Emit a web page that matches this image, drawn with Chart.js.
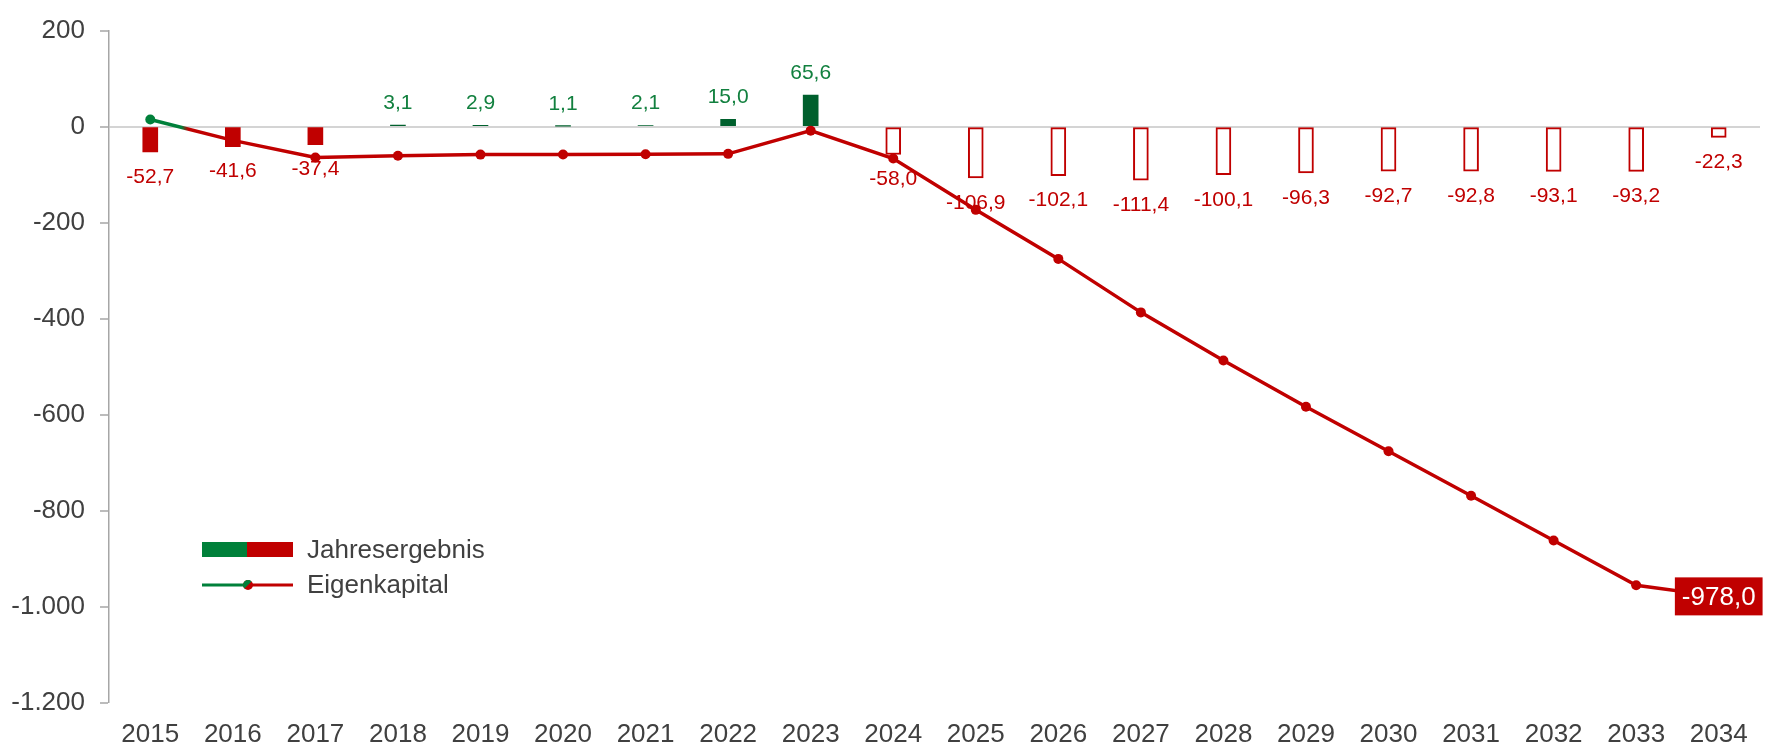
<!DOCTYPE html>
<html>
<head>
<meta charset="utf-8">
<script src="https://cdn.jsdelivr.net/npm/chart.js@4/dist/chart.umd.min.js"></script>
<style>
  html, body { margin: 0; padding: 0; background: #fff; }
  #wrap { width: 1769px; height: 748px; position: relative; }
</style>
</head>
<body>
<div id="wrap"><canvas id="myChart"></canvas></div>
<script>
const years = ['2015', '2016', '2017', '2018', '2019', '2020', '2021', '2022', '2023', '2024',
  '2025', '2026', '2027', '2028', '2029', '2030', '2031', '2032', '2033', '2034'];
const jahresergebnis = [-52.7, -41.6, -37.4, 3.1, 2.9, 1.1, 2.1, 15.0, 65.6, -58.0,
  -106.9, -102.1, -111.4, -100.1, -96.3, -92.7, -92.8, -93.1, -93.2, -22.3];
const eigenkapital = [15.0, -28.5, -64.4, -60.6, -58.2, -57.9, -57.3, -56.6, -8.3, -66.3,
  -173.2, -275.3, -386.7, -486.8, -583.1, -675.8, -768.6, -861.7, -954.9, -978.0];
const firstPlanYear = '2024';
const yTicks = [200, 0, -200, -400, -600, -800, -1000, -1200];

const RED = '#c00000';
const GREEN = '#00803a';
const DARKGREEN = '#00602d';
const LABELGREEN = '#12803f';
const GREY = '#404040';
const FONT = '"Liberation Sans", Arial, sans-serif';

const planStart = years.indexOf(firstPlanYear);

function fmtDec(v) {
  return v.toFixed(1).replace('.', ',');
}

function fmtThousand(v) {
  let s = Math.abs(v).toString().replace(/\B(?=(\d{3})+(?!\d))/g, '.');
  return (v < 0 ? '-' : '') + s;
}

const barLabels = {
  id: 'barLabels',
  afterDatasetDraw(chart, args) {
    if (args.index !== 1) return;
    const ctx = chart.ctx;
    ctx.save();
    ctx.font = '21px ' + FONT;
    ctx.textAlign = 'center';
    ctx.textBaseline = 'middle';
    args.meta.data.forEach((bar, i) => {
      const v = jahresergebnis[i];
      ctx.fillStyle = v < 0 ? RED : LABELGREEN;
      const y = v < 0 ? bar.y + 25 : bar.y - 22;
      ctx.fillText(fmtDec(v), bar.x, y);
    });
    ctx.restore();
  }
};

const endLabel = {
  id: 'endLabel',
  afterDatasetsDraw(chart) {
    const ctx = chart.ctx;
    const meta = chart.getDatasetMeta(0);
    const last = eigenkapital.length - 1;
    const pt = meta.data[last];
    const text = fmtDec(eigenkapital[last]);
    ctx.save();
    ctx.font = '26px ' + FONT;
    const w = ctx.measureText(text).width + 14;
    const h = 38;
    ctx.fillStyle = RED;
    ctx.fillRect(pt.x - w / 2, pt.y - h / 2, w, h);
    ctx.fillStyle = '#fff';
    ctx.textAlign = 'center';
    ctx.textBaseline = 'middle';
    ctx.fillText(text, pt.x, pt.y + 1);
    ctx.restore();
  }
};

const customLegend = {
  id: 'customLegend',
  afterDraw(chart) {
    const ctx = chart.ctx;
    const x0 = 202, xm = 247, x1 = 293, tx = 307;
    const y1 = 550, y2 = 585;
    ctx.save();
    ctx.fillStyle = GREEN;
    ctx.fillRect(x0, y1 - 8, xm - x0, 15);
    ctx.fillStyle = RED;
    ctx.fillRect(xm, y1 - 8, x1 - xm, 15);

    ctx.lineWidth = 3;
    ctx.strokeStyle = GREEN;
    ctx.beginPath(); ctx.moveTo(x0, y2); ctx.lineTo(xm, y2); ctx.stroke();
    ctx.strokeStyle = RED;
    ctx.beginPath(); ctx.moveTo(xm, y2); ctx.lineTo(x1, y2); ctx.stroke();
    ctx.fillStyle = RED;
    ctx.beginPath(); ctx.arc(xm + 1, y2, 5, 0, Math.PI * 2); ctx.fill();
    ctx.fillStyle = GREEN;
    ctx.beginPath(); ctx.arc(xm + 1, y2, 5, Math.PI * 0.75, Math.PI * 1.75); ctx.fill();

    ctx.fillStyle = GREY;
    ctx.font = '26px ' + FONT;
    ctx.textAlign = 'left';
    ctx.textBaseline = 'middle';
    ctx.fillText('Jahresergebnis', tx, y1 + 1);
    ctx.fillText('Eigenkapital', tx, y2 + 1);
    ctx.restore();
  }
};

function segColor(c) {
  if (c.p0DataIndex !== 0) return undefined;
  const grad = c.chart.ctx.createLinearGradient(c.p0.x, 0, c.p1.x, 0);
  grad.addColorStop(0, GREEN);
  grad.addColorStop(0.38, GREEN);
  grad.addColorStop(0.46, RED);
  grad.addColorStop(1, RED);
  return grad;
}

new Chart(document.getElementById('myChart'), {
  type: 'bar',
  data: {
    labels: years,
    datasets: [{
      type: 'line',
      label: 'Eigenkapital',
      data: eigenkapital,
      order: 0,
      borderColor: RED,
      borderWidth: 3.5,
      pointRadius: 5,
      pointBorderWidth: 0,
      pointBackgroundColor: eigenkapital.map((v, i) => i === 0 ? GREEN : RED),
      tension: 0,
      segment: { borderColor: segColor }
    }, {
      type: 'bar',
      label: 'Jahresergebnis',
      data: jahresergebnis,
      order: 1,
      barThickness: 15,
      borderSkipped: false,
      backgroundColor: jahresergebnis.map((v, i) => i >= planStart ? '#fff' : (v < 0 ? RED : DARKGREEN)),
      borderColor: jahresergebnis.map((v, i) => i >= planStart ? RED : 'rgba(0,0,0,0)'),
      borderWidth: jahresergebnis.map((v, i) => i >= planStart ? 2 : 0)
    }]
  },
  options: {
    responsive: true,
    maintainAspectRatio: false,
    animation: false,
    layout: { padding: { top: 18, right: 9, left: 0, bottom: 0 } },
    plugins: {
      legend: { display: false },
      tooltip: { enabled: false }
    },
    scales: {
      x: {
        grid: { display: false, drawTicks: false },
        border: { display: false },
        ticks: {
          color: GREY,
          font: { family: FONT, size: 26 },
          padding: 16,
          maxRotation: 0,
          autoSkip: false
        },
        afterFit(scale) { scale.height = 45; }
      },
      y: {
        min: -1200,
        max: 200,
        afterBuildTicks(scale) { scale.ticks = yTicks.map(v => ({ value: v })); },
        grid: {
          drawTicks: true,
          tickLength: 9,
          tickColor: '#a6a6a6',
          tickWidth: 1.5,
          color: c => c.tick && c.tick.value === 0 ? '#d4d4d4' : 'rgba(0,0,0,0)',
          lineWidth: c => c.tick && c.tick.value === 0 ? 2 : 0
        },
        border: { display: true, color: '#a6a6a6', width: 1.5 },
        ticks: {
          color: GREY,
          font: { family: FONT, size: 26 },
          padding: 15,
          callback: v => fmtThousand(v)
        },
        afterFit(scale) { scale.width = 109; }
      }
    }
  },
  plugins: [barLabels, endLabel, customLegend]
});
</script>
</body>
</html>
